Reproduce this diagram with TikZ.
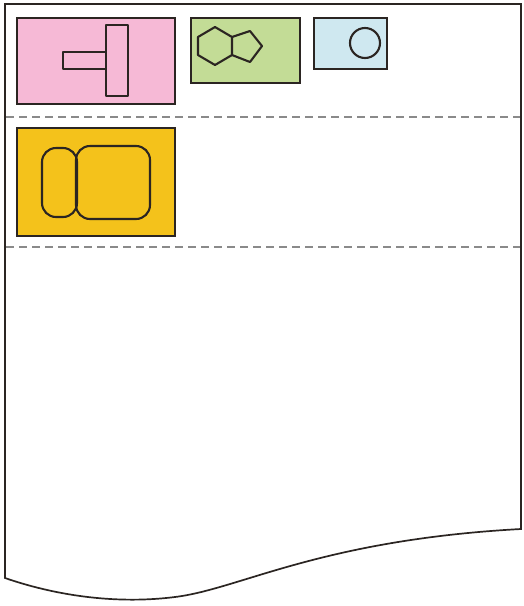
\documentclass[tikz,border=0pt]{standalone}
\usepackage{tikz}
\definecolor{pinkc}{HTML}{F6B9D6}
\definecolor{greenc}{HTML}{C3DC96}
\definecolor{bluec}{HTML}{CFE8F0}
\definecolor{yellowc}{HTML}{F4C21B}
\definecolor{linec}{HTML}{2B2522}
\definecolor{dashc}{HTML}{8A8A8A}
\tikzset{
  sheet/.style={draw=linec, line width=1.7pt, fill=white},
  box/.style={draw=linec, line width=2.3pt},
  icon/.style={draw=linec, line width=2.1pt, line join=round},
  sep/.style={draw=dashc, line width=1.4pt, dash pattern=on 8pt off 5pt}
}
\begin{document}
\begin{tikzpicture}[x=1pt,y=-1pt]
\useasboundingbox (0,0) rectangle (523,606);
% sheet
\draw[sheet] (5,578) -- (5,4) -- (521,4) -- (521,529)
  .. controls (320,540) and (240,589) .. (175,597)
  .. controls (120,604) and (60,597) .. (5,578) -- cycle;
% separators
\coordinate (s1l) at (6,117); \coordinate (s1r) at (520,117);
\coordinate (s2l) at (6,247); \coordinate (s2r) at (520,247);
\draw[sep] (s1l) -- (s1r);
\draw[sep] (s2l) -- (s2r);
% pink box
\draw[box, fill=pinkc] (17,18) rectangle (175,104);
\draw[icon, fill=pinkc] (63,52) rectangle (106,69);
\draw[icon, fill=pinkc] (106,25) rectangle (128,96);
% green box
\draw[box, fill=greenc] (191,18) rectangle (300,83);
\draw[icon] (215,27) -- (198,37) -- (198,55) -- (215,65) -- (232,55) -- (232,37) -- cycle;
\draw[icon] (232,37) -- (250,31) -- (262,46) -- (250,62) -- (232,55);
% blue box
\draw[box, fill=bluec] (314,18) rectangle (387,69);
\draw[icon] (365,43) circle (15);
% yellow box
\draw[box, fill=yellowc] (17,128) rectangle (175,236);
\draw[icon, rounded corners=14pt] (42,148) rectangle (77,217);
\draw[icon, rounded corners=14pt] (76,146) rectangle (150,219);
\end{tikzpicture}
\end{document}
